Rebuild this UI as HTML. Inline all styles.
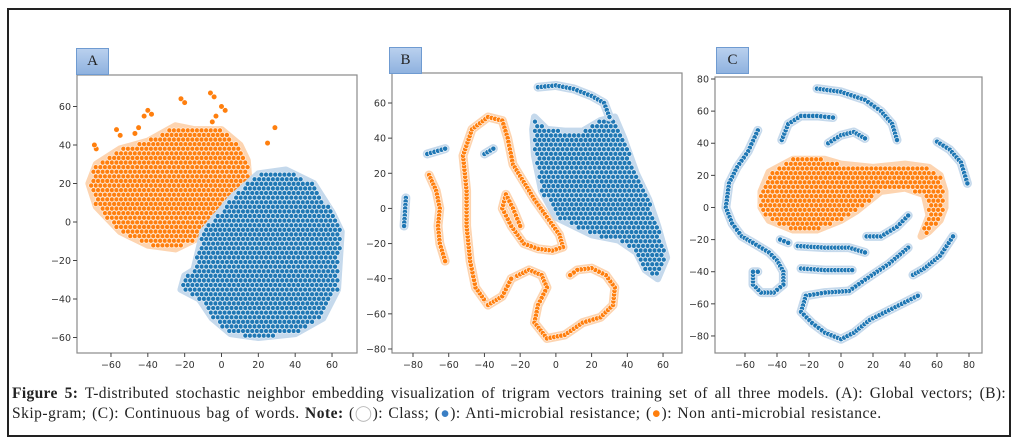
<!DOCTYPE html>
<html><head><meta charset="utf-8"><style>
html,body{margin:0;padding:0;background:#fff;width:1018px;height:445px;overflow:hidden}
#frame{position:absolute;left:7px;top:8px;width:1000px;height:425px;border:2px solid #222}
.lbl{position:absolute;width:31px;height:25px;background:linear-gradient(#b9d0ee,#8fb2df);border:1px solid #6f9bd1;font:15px "Liberation Serif",serif;text-align:center;line-height:25px;color:#222}
#cap{position:absolute;left:12px;top:384px;width:994px;font:15.5px "Liberation Serif",serif;color:#222;line-height:20px}
#cap .l1{text-align:justify;text-align-last:justify;white-space:nowrap;letter-spacing:0.35px;word-spacing:0px}
#cap .l2{letter-spacing:0.5px;word-spacing:1px}
svg{position:absolute;left:0;top:0}
</style></head><body>
<div id="frame"></div>
<svg id="chart" width="1018" height="445"></svg>
<div class="lbl" style="left:76px;top:48px">A</div>
<div class="lbl" style="left:389px;top:47px">B</div>
<div class="lbl" style="left:716px;top:47px">C</div>
<div id="cap"><div class="l1"><b>Figure 5:</b> T-distributed stochastic neighbor embedding visualization of trigram vectors training set of all three models. (A): Global vectors; (B):</div><div class="l2">Skip-gram; (C): Continuous bag of words. <b>Note:</b> (<span style="color:#bbb">&#9711;</span>): Class; (<span style="color:#3a7fc4">&#9679;</span>): Anti-microbial resistance; (<span style="color:#ff7f0e">&#9679;</span>): Non anti-microbial resistance.</div></div>
<script>
// ---- data (t-SNE coordinates) ----
const aOrangeBlob=[[-72,20],[-68,30],[-55,38],[-40,42],[-25,50],[-15,48],[0,48],[10,40],[14,32],[15,20],[10,12],[-5,2],[-12,-8],[-25,-14],[-40,-12],[-55,-5],[-68,8]];
const aOrangePts=[[-68,38],[-69,40],[-57,48],[-55,45],[-47,46],[-45,49],[-40,58],[-38,56],[-42,55],[-22,64],[-20,62],[-6,67],[-4,65],[2,58],[0,60],[-5,52],[-3,55],[25,41],[29,49]];
const aBlueBlob=[[-15,-25],[-10,-5],[5,12],[20,25],[35,27],[50,20],[60,5],[65,-5],[63,-35],[55,-50],[40,-58],[20,-60],[5,-58],[-5,-50],[-12,-40],[-22,-35],[-20,-28]];
const bOrangeCurves=[
 [[-71,19],[-67,10],[-65,0],[-66,-10],[-65,-20],[-62,-30]],
 [[-25,-40],[-15,-35],[-8,-38],[-5,-45],[-10,-55],[-12,-65],[-5,-74],[5,-72],[15,-65],[25,-62],[32,-55],[33,-45],[28,-38],[20,-34],[12,-35],[8,-38]],
 [[-38,-55],[-45,-45],[-48,-30],[-50,-10],[-50,10],[-52,30],[-47,45],[-38,52],[-30,50],[-27,40],[-24,25],[-18,15],[-12,5],[-5,-5],[2,-15],[4,-22],[-2,-24],[-10,-23],[-18,-20],[-25,-10],[-30,0],[-28,8],[-24,0],[-20,-10]],
 [[-38,-55],[-30,-50],[-25,-40]]];
const bBlueBlob=[[-12,52],[-5,45],[5,44],[15,44],[25,50],[33,52],[38,40],[45,20],[52,5],[57,-10],[62,-28],[57,-40],[50,-35],[45,-25],[35,-18],[20,-15],[10,-10],[0,-5],[-8,10],[-12,30],[-13,45]];
const bBlueCurves=[[[-10,69],[0,70],[10,68],[20,64],[27,60],[30,52]],[[-72,31],[-62,34]],[[-40,31],[-35,34]],[[-84,6],[-85,-10]]];
const cOrangeBlob=[[-50,10],[-45,22],[-30,30],[-10,30],[0,27],[20,25],[40,27],[55,25],[62,20],[65,10],[65,0],[62,-8],[55,-15],[50,-18],[55,-5],[52,8],[40,12],[25,10],[10,-2],[0,-8],[-15,-14],[-30,-14],[-45,-8],[-50,0]];
const cBlueCurves=[
 [[-15,74],[0,72],[15,67],[25,60],[32,52],[35,42]],
 [[-37,42],[-33,52],[-25,57],[-15,57],[-5,56]],
 [[-8,40],[0,45],[8,47],[15,43]],
 [[60,41],[68,36],[75,28],[79,15]],
 [[-52,48],[-58,35],[-65,25],[-70,15],[-72,0],[-68,-10],[-62,-18],[-55,-22],[-45,-28],[-40,-33],[-36,-40],[-36,-48],[-42,-53],[-50,-53],[-55,-48],[-55,-40],[-52,-40]],
 [[-38,-20],[-33,-22]],
 [[-27,-24],[-10,-25],[5,-25],[15,-28]],
 [[-25,-38],[-10,-39],[7,-39]],
 [[16,-18],[25,-18],[35,-12],[42,-5]],
 [[45,-42],[52,-38],[62,-30],[70,-18]],
 [[42,-25],[30,-35],[15,-45],[5,-52],[-10,-53],[-22,-55],[-25,-65],[-18,-72],[-10,-78],[0,-82],[8,-78],[18,-70],[28,-65],[38,-60],[48,-55]]];
const aTicksX=[-60,-40,-20,0,20,40,60], aTicksY=[-60,-40,-20,0,20,40,60];
const bTicksX=[-80,-60,-40,-20,0,20,40,60], bTicksY=[-80,-60,-40,-20,0,20,40,60];
const cTicksX=[-60,-40,-20,0,20,40,60,80], cTicksY=[-80,-60,-40,-20,0,20,40,60,80];

const NS='http://www.w3.org/2000/svg', svg=document.getElementById('chart');
const BLUE='#1f77b4', ORANGE='#ff7f0e', LB='#c5d9ec', LO='#fdd4b0';
function mk(t,a,p){const e=document.createElementNS(NS,t);for(const k in a)e.setAttribute(k,a[k]);(p||svg).appendChild(e);return e;}
function panel(name,box,sx,sy,tx,ty){
  const g=mk('g',{});
  
  
  const fr=mk('rect',{x:box[0],y:box[1],width:box[2]-box[0],height:box[3]-box[1],fill:'#fff',stroke:'#8a8a8a','stroke-width':1.2},g);
  
  
  tx.forEach(v=>{const x=sx(v);mk('line',{x1:x,x2:x,y1:box[3],y2:box[3]+4,stroke:'#444'},g);
    const t=mk('text',{x:x,y:box[3]+15,'text-anchor':'middle','font-size':9.5,fill:'#333','font-family':'DejaVu Sans,sans-serif'},g);t.textContent=v<0?'\u2212'+(-v):v;
    
    });
  ty.forEach(v=>{const y=sy(v);mk('line',{x1:box[0]-4,x2:box[0],y1:y,y2:y,stroke:'#444'},g);
    const t=mk('text',{x:box[0]-6,y:y+3.5,'text-anchor':'end','font-size':9.5,fill:'#333','font-family':'DejaVu Sans,sans-serif'},g);t.textContent=v<0?'\u2212'+(-v):v;
    
    });
  return g;
}
function inPoly(x,y,P){let c=false;for(let i=0,j=P.length-1;i<P.length;j=i++){const[xi,yi]=P[i],[xj,yj]=P[j];if((yi>y)!=(yj>y)&&x<(xj-xi)*(y-yi)/(yj-yi)+xi)c=!c;}return c;}
function blob(g,poly,sx,sy,col,light,nm){
  const P=poly.map(p=>[sx(p[0]),sy(p[1])]);
  const pg=mk('polygon',{points:P.map(p=>p.join(',')).join(' '),fill:col,stroke:light,'stroke-width':7,'stroke-linejoin':'round'},g);
  
  
  const xs=P.map(p=>p[0]),ys=P.map(p=>p[1]);
  let r=0;
  for(let y=Math.min(...ys);y<=Math.max(...ys);y+=4.6,r++)
    for(let x=Math.min(...xs)+(r%2?2.3:0);x<=Math.max(...xs);x+=4.6)
      if(inPoly(x,y,P))mk('circle',{cx:x,cy:y,r:2.5,fill:col,stroke:'#fff','stroke-width':0.7,'stroke-opacity':0.8},g);
}
function curve(g,pts,sx,sy,col,light,nm){
  const P=pts.map(p=>[sx(p[0]),sy(p[1])]);
  const pl=mk('polyline',{points:P.map(p=>p.join(',')).join(' '),fill:'none',stroke:light,'stroke-width':9,'stroke-linecap':'round','stroke-linejoin':'round'},g);
  
  
  for(let i=0;i<P.length-1;i++){const[x1,y1]=P[i],[x2,y2]=P[i+1];const L=Math.hypot(x2-x1,y2-y1),n=Math.max(1,Math.round(L/3.6));
    for(let k=0;k<n;k++){const t=k/n;mk('circle',{cx:x1+(x2-x1)*t,cy:y1+(y2-y1)*t,r:2.6,fill:col,stroke:'#fff','stroke-width':0.6},g);}}
  const e=P[P.length-1];mk('circle',{cx:e[0],cy:e[1],r:2.6,fill:col,stroke:'#fff','stroke-width':0.6},g);
}
// Panel A
{const sx=x=>221.5+1.842*x, sy=y=>222-1.925*y;
 const g=panel('panel-a-glove',[77,75,357,353],sx,sy,aTicksX,aTicksY);
 blob(g,aOrangeBlob,sx,sy,ORANGE,LO,'non-amr-cluster');
 blob(g,aBlueBlob,sx,sy,BLUE,LB,'amr-cluster');
 aOrangePts.forEach(p=>{const c=mk('circle',{cx:sx(p[0]),cy:sy(p[1]),r:2.8,fill:ORANGE,stroke:'#fff','stroke-width':0.6},g);
   
   });}
// Panel B
{const sx=x=>413+(x+80)*1.786, sy=y=>103+(60-y)*1.757;
 const g=panel('panel-b-skipgram',[392,73,682,353],sx,sy,bTicksX,bTicksY);
 bOrangeCurves.forEach(c=>curve(g,c,sx,sy,ORANGE,LO,'non-amr-strand'));
 blob(g,bBlueBlob,sx,sy,BLUE,LB,'amr-cluster');
 bBlueCurves.forEach(c=>curve(g,c,sx,sy,BLUE,LB,'amr-strand'));}
// Panel C
{const sx=x=>745+(x+60)*1.6, sy=y=>79+(80-y)*1.606;
 const g=panel('panel-c-cbow',[715,77,982,353],sx,sy,cTicksX,cTicksY);
 blob(g,cOrangeBlob,sx,sy,ORANGE,LO,'non-amr-cluster');
 cBlueCurves.forEach(c=>curve(g,c,sx,sy,BLUE,LB,'amr-strand'));}
</script>
</body></html>
